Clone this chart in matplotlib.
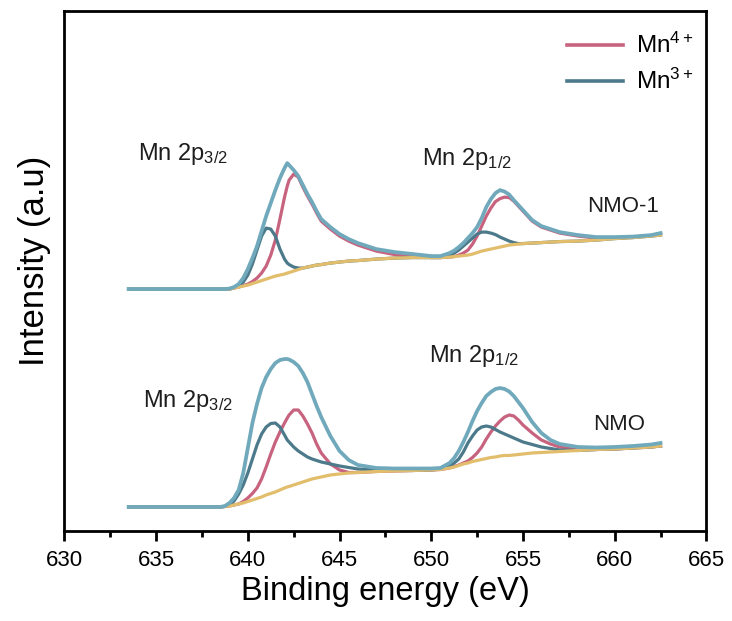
import numpy as np
import matplotlib
matplotlib.use("Agg")
import matplotlib.pyplot as plt

plt.rcParams['font.family'] = ['Liberation Sans', 'DejaVu Sans']
plt.rcParams['mathtext.fontset'] = 'custom'
plt.rcParams['mathtext.rm'] = 'Liberation Sans'
plt.rcParams['mathtext.it'] = 'Liberation Sans'

# Binding energy grid (eV), shared by both spectra
energy = [633.5, 636, 638.5, 638.75, 639.0, 639.25, 639.5, 639.75, 640.0, 640.25,
          640.5, 640.75, 641.0, 641.25, 641.5, 641.75, 642.0, 642.15, 642.25, 642.5,
          642.75, 643.0, 643.25, 643.5, 643.75, 644.0, 644.5, 645.0, 645.5, 646.0,
          647.0, 648.0, 649.0, 650.0, 650.5, 651.0, 651.25, 651.5, 651.75, 652.0,
          652.25, 652.5, 652.75, 653.0, 653.25, 653.5, 653.75, 654.0, 654.25, 654.5,
          654.75, 655.0, 655.5, 656.0, 656.5, 657.0, 658.0, 659.0, 660.0, 661.0,
          662.0, 662.5]

# NMO-1 (upper, offset) spectrum
env_1 = [242, 242, 242, 242, 242.5, 244, 247, 253, 262, 273,
         285, 300, 315, 328, 341, 353, 363, 368, 366, 361,
         355, 346, 337, 329, 320, 312, 304, 297, 292, 288,
         282, 279, 277, 275, 275, 278, 280.5, 284, 288, 293,
         298, 304, 313, 324, 332, 338, 341, 339.5, 336.5, 331,
         326, 321, 311, 305, 302, 299, 296, 294, 294, 294.5,
         296, 298]
mn4_1 = [242, 242, 242, 242, 242, 243, 244, 245.5, 247, 249.5,
         253, 258, 265, 276, 291, 312, 334, 345, 351, 357,
         354, 344, 335, 327, 318, 310, 302, 295, 290, 286,
         280, 276.5, 274.5, 273.5, 273.5, 274, 274.5, 276, 278, 281,
         287, 295, 305, 315, 323, 329.5, 332.5, 334, 333.5, 330,
         325, 320, 310, 304, 301, 298, 295, 293, 293, 294,
         295.5, 297.5]
mn3_1 = [242, 242, 242, 242, 242, 243.5, 245, 249, 256, 267,
         281, 295, 303, 302, 295, 282, 272, 268, 266.5, 264,
         263, 263, 264, 265, 266, 266.5, 268, 269, 270, 270.5,
         272, 273, 273.5, 273.5, 273.5, 276, 278, 281, 285, 289,
         293, 297, 299, 299, 298, 296.5, 294, 292, 290, 288.5,
         287.5, 287.5, 288, 288.5, 289, 289.5, 290, 291, 292.5, 293.5,
         295, 296]
bg_1 = [242, 242, 242, 242, 242, 243, 244, 245, 246, 247.5,
        249, 250.5, 252, 253.5, 255, 256, 257, 258, 258.5, 260,
        261.5, 263, 264, 265, 266, 266.5, 268, 269, 270, 270.5,
        272, 273, 273.5, 273.5, 273.5, 274, 274.5, 275, 275.5, 276,
        277, 278.5, 280, 281, 282, 283, 284, 285, 286, 286.5,
        287, 287.5, 288, 288.5, 289, 289.5, 290, 291, 292.5, 293.5,
        295, 296]

# NMO (lower) spectrum
env_2 = [24, 24, 24, 25, 28, 33, 41, 58, 83, 108,
         127, 143, 154, 162, 168, 171, 172, 172, 171.5, 169,
         165, 158, 149, 137, 125, 114, 95, 80, 71, 66,
         63, 62.5, 62.5, 62.5, 63, 68, 73, 80, 89, 99,
         110, 120, 128, 135, 139, 142, 143, 142, 139.5, 135,
         129, 123, 109, 98, 91, 87, 84, 83.5, 84, 85,
         86.5, 88]
mn4_2 = [24, 24, 24, 24.5, 25, 26, 27, 29.5, 33, 37.5,
         43, 52, 64, 77, 89, 99, 108, 113, 116, 121,
         121, 115, 107, 98, 87, 78, 67, 61, 58.5, 58.5,
         59.5, 60, 60.5, 61, 61.5, 63, 64.5, 66, 68, 70,
         73.5, 78, 84, 92, 99, 105, 110, 114, 116, 115,
         111, 106, 98, 91, 87, 84, 81, 81.5, 82, 83,
         84, 85]
mn3_2 = [24, 24, 24, 24.5, 26, 30, 37, 46, 58, 72,
         86, 97, 104, 107.5, 108, 104, 96, 91, 89, 84,
         80, 77, 74, 72, 70.5, 69, 67, 65, 63.5, 62,
         61, 60.5, 60.5, 61, 62, 65, 68, 72, 79, 88,
         95, 101, 104, 105, 104, 101.5, 99, 97, 95, 93,
         91, 89, 86.5, 84, 82.5, 81, 80.5, 81.5, 82, 83,
         84, 85]
bg_2 = [24, 24, 24, 24.5, 25, 26, 27, 28, 29.5, 31,
        32.5, 34, 36, 37.5, 39, 41, 43, 44, 44.5, 46,
        47.5, 49, 50.5, 52, 53, 54, 56, 57, 58, 58.5,
        59.5, 60, 60.5, 61, 61.5, 63, 64, 65.5, 67, 68,
        69.5, 70.5, 71.5, 72.5, 73.5, 74, 75, 75.5, 75.5, 76,
        76.5, 77, 78, 78.5, 79, 79.5, 80.5, 81.5, 82, 83,
        84, 85]

c_env = '#6fa9bb'
c_mn4 = '#c8637f'
c_mn3 = '#4c7a8b'
c_bg = '#e2bd6b'

fig = plt.figure(figsize=(7.32, 6.21), dpi=100)
ax = fig.add_axes([0.088, 0.145, 0.877, 0.837])

for env, mn4, mn3, bg in [(env_1, mn4_1, mn3_1, bg_1), (env_2, mn4_2, mn3_2, bg_2)]:
    ax.plot(energy, mn4, color=c_mn4, lw=2.3, zorder=2, solid_joinstyle='round')
    ax.plot(energy, mn3, color=c_mn3, lw=2.3, zorder=3, solid_joinstyle='round')
    ax.plot(energy, bg, color=c_bg, lw=2.3, zorder=4, solid_joinstyle='round')
    ax.plot(energy, env, color=c_env, lw=2.7, zorder=5, solid_joinstyle='round')

# legend entries
ax.plot([], [], color=c_mn4, lw=2.6, label='Mn$^{4+}$')
ax.plot([], [], color=c_mn3, lw=2.6, label='Mn$^{3+}$')
ax.legend(loc='upper right', frameon=False, fontsize=17.5, handlelength=2.3,
          handletextpad=0.5, labelspacing=0.45, bbox_to_anchor=(1.013, 1.0))

txt = dict(va='baseline', ha='left', color='#1e1e1e')
ax.text(634.0, 371, 'Mn 2p$_{3/2}$', fontsize=17, **txt)
ax.text(649.5, 366, 'Mn 2p$_{1/2}$', fontsize=17, **txt)
ax.text(658.5, 319, 'NMO-1', fontsize=16, **txt)
ax.text(634.3, 124, 'Mn 2p$_{3/2}$', fontsize=17, **txt)
ax.text(649.9, 169, 'Mn 2p$_{1/2}$', fontsize=17, **txt)
ax.text(658.8, 101, 'NMO', fontsize=16, **txt)

ax.set_xlim(630, 665)
ax.set_ylim(0, 520)
ax.set_xticks(np.arange(630, 666, 5))
ax.set_xticks(np.arange(632.5, 665, 5), minor=True)
ax.set_yticks([])
ax.tick_params(axis='x', which='major', length=7, width=2, labelsize=16, pad=7)
ax.tick_params(axis='x', which='minor', length=4, width=2)
for s in ax.spines.values():
    s.set_linewidth(2)

ax.set_xlabel('Binding energy (eV)', fontsize=23.5, labelpad=3)
ax.set_ylabel('Intensity (a.u)', fontsize=25, labelpad=10, y=0.52)

fig.savefig('out.png', dpi=100)
